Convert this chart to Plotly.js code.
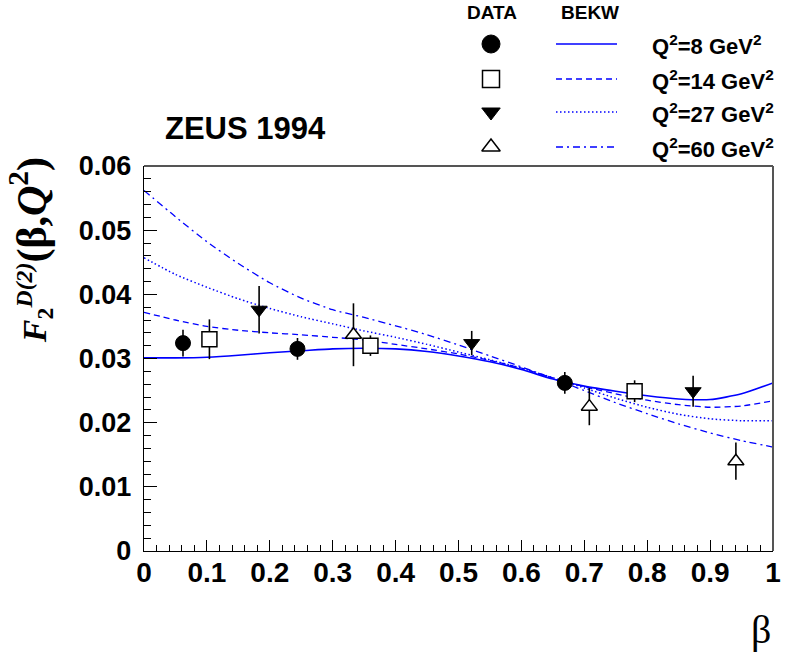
<!DOCTYPE html>
<html>
<head>
<meta charset="utf-8">
<script src="https://cdn.plot.ly/plotly-3.0.1.min.js"></script>
<style>html,body{margin:0;padding:0;background:#fff;}#chart{width:785px;height:654px;}</style>
</head>
<body>
<div id="chart"></div>
<script>
// ---- data ----
// Measured points (beta, F2D(2), stat error)
const q8Beta  = [0.062, 0.244, 0.669];
const q8F2    = [0.0324, 0.0315, 0.0262];
const q8Err   = [0.0021, 0.0017, 0.0017];

const q14Beta = [0.104, 0.360, 0.780];
const q14F2   = [0.0330, 0.0320, 0.0249];
const q14Err  = [0.0031, 0.0016, 0.0017];

const q27Beta = [0.183, 0.521, 0.873];
const q27F2   = [0.0376, 0.0324, 0.0249];
const q27Err  = [0.0037, 0.0019, 0.0024];

const q60Beta = [0.333, 0.708, 0.941];
const q60F2   = [0.0337, 0.0225, 0.0140];
const q60Err  = [0.0049, 0.0029, 0.0029];

// BEKW curves
const curveBeta = [0,0.05,0.1,0.15,0.2,0.25,0.3,0.35,0.4,0.45,0.5,0.55,0.6,0.65,0.7,0.75,0.8,0.85,0.9,0.95,1.0];
const bekw8  = [0.0301,0.0301,0.0302,0.0305,0.0309,0.0312,0.0315,0.0316,0.0315,0.0311,0.0304,0.0295,0.0283,0.0268,0.0257,0.0249,0.0242,0.0237,0.0236,0.0245,0.0262];
const bekw14 = [0.0372,0.0360,0.0350,0.0344,0.0340,0.0337,0.0333,0.0329,0.0322,0.0315,0.0307,0.0297,0.0285,0.0270,0.0256,0.0245,0.0235,0.0228,0.0224,0.0226,0.0234];
const bekw27 = [0.0457,0.0431,0.0411,0.0393,0.0378,0.0365,0.0354,0.0343,0.0333,0.0322,0.0310,0.0298,0.0285,0.0270,0.0254,0.0238,0.0224,0.0213,0.0206,0.0203,0.0203];
const bekw60 = [0.0562,0.0521,0.0482,0.0448,0.0418,0.0394,0.0376,0.0364,0.0351,0.0337,0.0321,0.0304,0.0287,0.0269,0.0250,0.0231,0.0214,0.0198,0.0184,0.0172,0.0162];

const xTickVals = [0,0.1,0.2,0.3,0.4,0.5,0.6,0.7,0.8,0.9,1];
const xTickText = ['0','0.1','0.2','0.3','0.4','0.5','0.6','0.7','0.8','0.9','1'];
const yTickVals = [0,0.01,0.02,0.03,0.04,0.05,0.06];
const yTickText = ['0','0.01','0.02','0.03','0.04','0.05','0.06'];

const legendLabels = ['Q<sup>2</sup>=8 GeV<sup>2</sup>','Q<sup>2</sup>=14 GeV<sup>2</sup>','Q<sup>2</sup>=27 GeV<sup>2</sup>','Q<sup>2</sup>=60 GeV<sup>2</sup>'];

// ---- styles ----
const BLUE = '#0000ff';
const SANS = 'Liberation Sans, Arial, sans-serif';
const SERIF = 'Liberation Serif, Times New Roman, serif';
const curveStyles = [
  {dash:'solid', width:1.6},
  {dash:'6px,4px', width:1.3},
  {dash:'1.5px,2.5px', width:1.5},
  {dash:'7px,4px,2px,4px', width:1.3}
];
const markerStyles = [
  {symbol:'circle', size:15, color:'black', line:{color:'black', width:1}},
  {symbol:'square', size:15, color:'white', line:{color:'black', width:1.5}},
  {symbol:'triangle-down', size:14, color:'black', line:{color:'black', width:1}},
  {symbol:'triangle-up', size:14, color:'white', line:{color:'black', width:1.5}}
];
const legendMarkerSizes = [18, 17, 16, 16];

const curves = [bekw8, bekw14, bekw27, bekw60];
const pts = [[q8Beta,q8F2,q8Err],[q14Beta,q14F2,q14Err],[q27Beta,q27F2,q27Err],[q60Beta,q60F2,q60Err]];

const traces = [];
curves.forEach((c,i) => {
  traces.push({x:curveBeta, y:c, type:'scatter', mode:'lines', xaxis:'x', yaxis:'y',
    line:{color:BLUE, width:curveStyles[i].width, dash:curveStyles[i].dash, shape:'spline', smoothing:0.6},
    showlegend:false, hoverinfo:'skip'});
});
pts.forEach((p,i) => {
  traces.push({x:p[0], y:p[1], type:'scatter', mode:'markers', xaxis:'x', yaxis:'y',
    error_y:{type:'data', array:p[2], visible:true, color:'black', thickness:1.6, width:0},
    marker:markerStyles[i], showlegend:false, cliponaxis:false});
});

// ---- legend (drawn on a hidden pixel-like axis pair above the frame) ----
const legMarkerX = 491;
const legLineX = [556, 617];
const legRowY = [44, 79, 112, 147];
const legLabelX = 650;
legRowY.forEach((ry,i) => {
  const ms = Object.assign({}, markerStyles[i], {size:legendMarkerSizes[i]});
  traces.push({x:[legMarkerX], y:[ry], type:'scatter', mode:'markers', xaxis:'x2', yaxis:'y2',
    marker:ms, showlegend:false, hoverinfo:'skip', cliponaxis:false});
  traces.push({x:legLineX, y:[ry,ry], type:'scatter', mode:'lines', xaxis:'x2', yaxis:'y2',
    line:{color:BLUE, width:curveStyles[i].width, dash:curveStyles[i].dash},
    showlegend:false, hoverinfo:'skip', cliponaxis:false});
});

const plotTopFrac = 385/551;

const annotations = [
  {xref:'paper', yref:'paper', x:0.030, y:0.7659, xanchor:'left', yanchor:'middle', showarrow:false,
   text:'ZEUS 1994', font:{family:SANS, size:31, color:'black', weight:'bold'}},
  {xref:'paper', yref:'paper', x:1.0, y:-0.142, xanchor:'right', yanchor:'middle', showarrow:false,
   text:'β', font:{family:SERIF, size:40, color:'black'}},
  {xref:'paper', yref:'paper', x:-0.181, y:0.5463, xanchor:'center', yanchor:'middle', showarrow:false, textangle:-90,
   text:'<b><i>F</i><sub>2</sub><sup><i>D(2)</i></sup><span style="font-size:42px">(β,<i>Q</i><sup>2</sup>)</span></b>',
   font:{family:SERIF, size:34, color:'black'}},
  {xref:'x2', yref:'y2', x:492, y:12, xanchor:'center', yanchor:'middle', showarrow:false,
   text:'DATA', font:{family:SANS, size:19, color:'black', weight:'bold'}},
  {xref:'x2', yref:'y2', x:590, y:12, xanchor:'center', yanchor:'middle', showarrow:false,
   text:'BEKW', font:{family:SANS, size:19, color:'black', weight:'bold'}}
];
legRowY.forEach((ry,i) => {
  annotations.push({xref:'x2', yref:'y2', x:legLabelX, y:ry+1, xanchor:'left', yanchor:'middle', showarrow:false,
    text:legendLabels[i], font:{family:SANS, size:22, color:'black', weight:'bold'}});
});

const layout = {
  width:785, height:654,
  margin:{l:144, r:12, t:0, b:103, pad:0},
  paper_bgcolor:'white', plot_bgcolor:'white',
  showlegend:false,
  xaxis:{domain:[0,1], range:[0,1], anchor:'y', tickmode:'array', tickvals:xTickVals, ticktext:xTickText,
    ticks:'inside', ticklen:11, tickwidth:1, tickcolor:'black',
    minor:{tickmode:'linear', tick0:0, dtick:0.02, ticks:'inside', ticklen:6, tickcolor:'black', showgrid:false},
    showline:true, linecolor:'black', linewidth:1.2, showgrid:false, zeroline:false,
    tickfont:{family:SANS, size:28, color:'black', weight:'bold'}, ticklabelstandoff:-4},
  yaxis:{domain:[0,plotTopFrac], range:[0,0.06], anchor:'x', tickmode:'array', tickvals:yTickVals, ticktext:yTickText,
    ticks:'inside', ticklen:13, tickwidth:1, tickcolor:'black',
    minor:{tickmode:'linear', tick0:0, dtick:0.002, ticks:'inside', ticklen:7, tickcolor:'black', showgrid:false},
    showline:true, linecolor:'black', linewidth:1.2, showgrid:false, zeroline:false,
    tickfont:{family:SANS, size:27, color:'black', weight:'bold'}, ticklabelstandoff:6},
  xaxis2:{domain:[0,1], range:[144,773], anchor:'y2', visible:false, fixedrange:true},
  yaxis2:{domain:[plotTopFrac,1], range:[166,0], anchor:'x2', visible:false, fixedrange:true},
  shapes:[
    {type:'line', xref:'paper', yref:'paper', x0:0, x1:1, y0:plotTopFrac, y1:plotTopFrac, line:{color:'#555', width:2}},
    {type:'line', xref:'paper', yref:'paper', x0:1, x1:1, y0:0, y1:plotTopFrac, line:{color:'#555', width:2}}
  ],
  annotations:annotations
};

Plotly.newPlot('chart', traces, layout, {staticPlot:true, displayModeBar:false});
</script>
</body>
</html>
